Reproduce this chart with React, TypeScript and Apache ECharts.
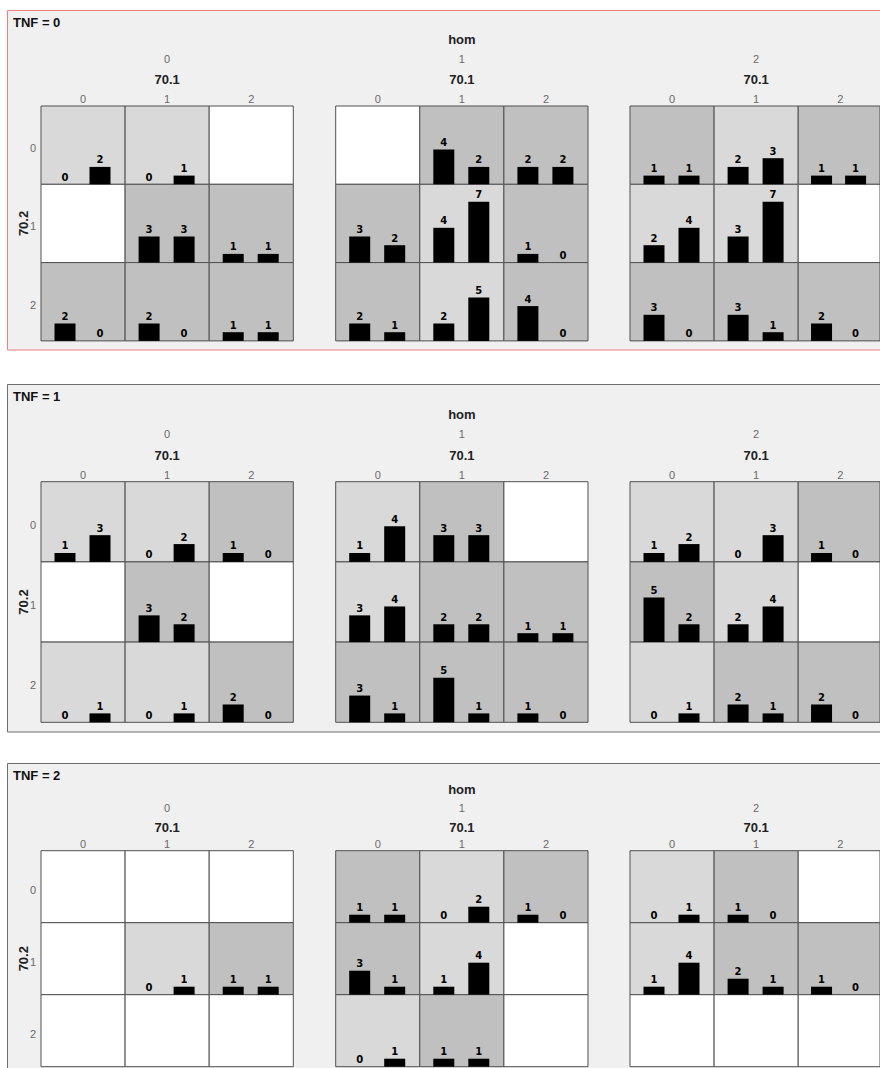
import React, { useEffect, useRef } from "react";
import * as echarts from "echarts";

// ---- category levels ----
const tnfLevels = ["0", "1", "2"];
const homLevels = ["0", "1", "2"];
const levels701 = ["0", "1", "2"]; // columns inside each hom group
const levels702 = ["0", "1", "2"]; // rows inside each hom group

// ---- counts: [row 70.2][col 70.1] = [first bar, second bar] or null (empty cell) ----
type Cell = [number, number] | null;
const tnf0Hom0: Cell[][] = [[[0, 2], [0, 1], null], [null, [3, 3], [1, 1]], [[2, 0], [2, 0], [1, 1]]];
const tnf0Hom1: Cell[][] = [[null, [4, 2], [2, 2]], [[3, 2], [4, 7], [1, 0]], [[2, 1], [2, 5], [4, 0]]];
const tnf0Hom2: Cell[][] = [[[1, 1], [2, 3], [1, 1]], [[2, 4], [3, 7], null], [[3, 0], [3, 1], [2, 0]]];
const tnf1Hom0: Cell[][] = [[[1, 3], [0, 2], [1, 0]], [null, [3, 2], null], [[0, 1], [0, 1], [2, 0]]];
const tnf1Hom1: Cell[][] = [[[1, 4], [3, 3], null], [[3, 4], [2, 2], [1, 1]], [[3, 1], [5, 1], [1, 0]]];
const tnf1Hom2: Cell[][] = [[[1, 2], [0, 3], [1, 0]], [[5, 2], [2, 4], null], [[0, 1], [2, 1], [2, 0]]];
const tnf2Hom0: Cell[][] = [[null, null, null], [null, [0, 1], [1, 1]], [null, null, null]];
const tnf2Hom1: Cell[][] = [[[1, 1], [0, 2], [1, 0]], [[3, 1], [1, 4], null], [[0, 1], [1, 1], null]];
const tnf2Hom2: Cell[][] = [[[0, 1], [1, 0], null], [[1, 4], [2, 1], [1, 0]], [null, null, null]];

const panelData: Cell[][][][] = [
  [tnf0Hom0, tnf0Hom1, tnf0Hom2],
  [tnf1Hom0, tnf1Hom1, tnf1Hom2],
  [tnf2Hom0, tnf2Hom1, tnf2Hom2],
];
const countAxisMax = 9;

// ---- layout ----
const panelLayout = [
  { top: 10, bottom: 349.5, gridTop: 106, cellH: 78.3, tnfY: 22, homY: 39, groupY: 59, titleY: 79, colY: 99, border: "#f27f7f" },
  { top: 384, bottom: 731.5, gridTop: 481.7, cellH: 80.2, tnfY: 396, homY: 414, groupY: 434, titleY: 455, colY: 474.5, border: "#6e6e6e" },
  { top: 763, bottom: 1120, gridTop: 850.7, cellH: 72, tnfY: 775, homY: 789, groupY: 808, titleY: 827, colY: 844, border: "#6e6e6e" },
];
const groupLefts = [41, 335.7, 630];
const cellW = 84.1;
const barOffset = 24; // center of first bar from cell left
const barStep = 35; // distance between bar centers

const FONT = '"Liberation Sans", Arial, sans-serif';

function buildOption() {
  const grid: any[] = [];
  const xAxis: any[] = [];
  const yAxis: any[] = [];
  const series: any[] = [];
  const graphic: any[] = [];

  panelLayout.forEach((L, p) => {
    graphic.push({
      type: "rect",
      z: 0,
      silent: true,
      shape: { x: 7.5, y: L.top + 0.5, width: 1000, height: L.bottom - L.top },
      style: { fill: "#f0f0f0", stroke: L.border, lineWidth: 1 },
    });
    graphic.push({
      type: "text",
      z: 5,
      x: 13,
      y: L.tnfY,
      style: { text: `TNF = ${tnfLevels[p]}`, font: `bold 13px ${FONT}`, fill: "#111", align: "left", verticalAlign: "middle" },
    });
    graphic.push({
      type: "text",
      z: 5,
      x: groupLefts[1] + 1.5 * cellW,
      y: L.homY,
      style: { text: "hom", font: `bold 13px ${FONT}`, fill: "#222", align: "center", verticalAlign: "middle" },
    });
    // row labels (70.2) only at the left
    levels702.forEach((lv, r) => {
      graphic.push({
        type: "text",
        z: 5,
        x: 33,
        y: L.gridTop + (r + 0.5) * L.cellH + 3,
        style: { text: lv, font: `11px ${FONT}`, fill: "#6a6a6a", align: "center", verticalAlign: "middle" },
      });
    });
    graphic.push({
      type: "text",
      z: 5,
      x: 23,
      y: L.gridTop + 1.5 * L.cellH,
      rotation: Math.PI / 2,
      style: { text: "70.2", font: `bold 13px ${FONT}`, fill: "#222", align: "center", verticalAlign: "middle" },
    });

    homLevels.forEach((hl, g) => {
      const gl = groupLefts[g];
      const gc = gl + 1.5 * cellW;
      graphic.push({
        type: "text",
        z: 5,
        x: gc,
        y: L.groupY,
        style: { text: hl, font: `11px ${FONT}`, fill: "#6a6a6a", align: "center", verticalAlign: "middle" },
      });
      graphic.push({
        type: "text",
        z: 5,
        x: gc,
        y: L.titleY,
        style: { text: "70.1", font: `bold 13px ${FONT}`, fill: "#222", align: "center", verticalAlign: "middle" },
      });
      levels701.forEach((cl, c) => {
        graphic.push({
          type: "text",
          z: 5,
          x: gl + (c + 0.5) * cellW,
          y: L.colY,
          style: { text: cl, font: `11px ${FONT}`, fill: "#6a6a6a", align: "center", verticalAlign: "middle" },
        });
      });

      const cells = panelData[p][g];
      cells.forEach((row, r) => {
        row.forEach((cell, c) => {
          const idx = grid.length;
          const bg = cell === null ? "#ffffff" : cell[0] < cell[1] ? "#d9d9d9" : "#c0c0c0";
          grid.push({
            left: gl + c * cellW,
            top: L.gridTop + r * L.cellH,
            width: cellW,
            height: L.cellH,
            show: true,
            z: 1,
            backgroundColor: bg,
            borderColor: "#505050",
            borderWidth: 1,
          });
          xAxis.push({
            type: "value",
            gridIndex: idx,
            min: -barOffset / barStep,
            max: (cellW - barOffset) / barStep,
            show: false,
            splitLine: { show: false },
          });
          yAxis.push({
            type: "value",
            gridIndex: idx,
            min: 0,
            max: countAxisMax,
            show: false,
            splitLine: { show: false },
          });
          if (cell !== null) {
            series.push({
              type: "bar",
              xAxisIndex: idx,
              yAxisIndex: idx,
              z: 2,
              silent: true,
              barWidth: 21,
              data: [
                [0, cell[0]],
                [1, cell[1]],
              ],
              itemStyle: { color: "#000000" },
              label: {
                show: true,
                position: "top",
                distance: 2,
                color: "#000",
                fontWeight: "bold",
                fontSize: 10,
                fontFamily: '"DejaVu Sans", Verdana, sans-serif',
                formatter: (prm: any) => String(prm.value[1]),
              },
            });
          }
        });
      });
    });
  });

  return {
    animation: false,
    backgroundColor: "#ffffff",
    tooltip: { show: false },
    grid,
    xAxis,
    yAxis,
    series,
    graphic,
  };
}

export default function App() {
  const ref = useRef<HTMLDivElement>(null);
  useEffect(() => {
    if (!ref.current) return;
    document.body.style.margin = "0";
    const chart = echarts.init(ref.current, undefined, { renderer: "svg" });
    chart.setOption(buildOption() as any);
    return () => chart.dispose();
  }, []);
  return (
    <div
      ref={ref}
      style={{ width: 880, height: 1068, background: "#fff", overflow: "hidden" }}
    />
  );
}
